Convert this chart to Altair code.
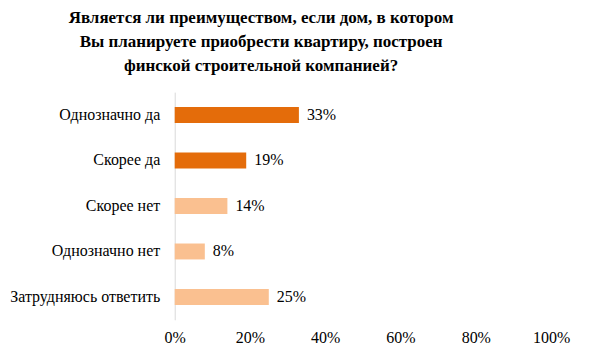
import altair as alt
import pandas as pd

categories = ["Однозначно да", "Скорее да", "Скорее нет", "Однозначно нет", "Затрудняюсь ответить"]
values = [33, 19, 14, 8, 25]
groups = ["да", "да", "нет", "нет", "нет"]
title_lines = [
    "Является ли преимуществом, если дом, в котором",
    "Вы планируете приобрести квартиру, построен",
    "финской строительной компанией?",
]

df = pd.DataFrame({"cat": categories, "val": values, "grp": groups})
df["label"] = df["val"].astype(str) + "%"

FONT = "Liberation Serif"
FS = 16

base = alt.Chart(df)

y_enc = alt.Y("cat:N", sort=categories, title=None,
              scale=alt.Scale(paddingInner=0.65, paddingOuter=0.325),
              axis=alt.Axis(domain=True, domainColor="#d9d9d9", ticks=False,
                            labelFont=FONT, labelFontSize=FS, labelColor="#000000",
                            labelPadding=15, labelLimit=300))
x_enc = alt.X("val:Q", title=None,
              scale=alt.Scale(domain=[0, 100]),
              axis=alt.Axis(values=[0, 20, 40, 60, 80, 100], labelExpr="datum.value + '%'",
                            domain=False, ticks=False, grid=False, labelFlush=False,
                            labelFont=FONT, labelFontSize=FS, labelColor="#000000",
                            labelPadding=10))

bars = base.mark_bar().encode(
    x=x_enc, y=y_enc,
    color=alt.Color("grp:N", scale=alt.Scale(domain=["да", "нет"], range=["#E46C0A", "#FAC090"]), legend=None),
)

texts = base.mark_text(align="left", baseline="middle", dx=8, font=FONT, fontSize=FS, color="#000000").encode(
    x="val:Q", y=alt.Y("cat:N", sort=categories), text="label:N"
)

chart = alt.layer(bars, texts).properties(
    width=377, height=228,
    background="white",
    autosize=alt.AutoSizeParams(type="none"),
    padding={"left": 167, "top": 84, "right": 30, "bottom": 30},
    title=alt.TitleParams(text=title_lines, anchor="middle", dx=-102, font=FONT, fontSize=17,
                          fontWeight="bold", color="#000000", lineHeight=24, offset=17),
).configure_view(strokeOpacity=0).configure_text(font=FONT).configure_axis(labelFont=FONT).configure_title(font=FONT)

chart.save("out.html", embed_options={"renderer": "svg", "actions": False})
